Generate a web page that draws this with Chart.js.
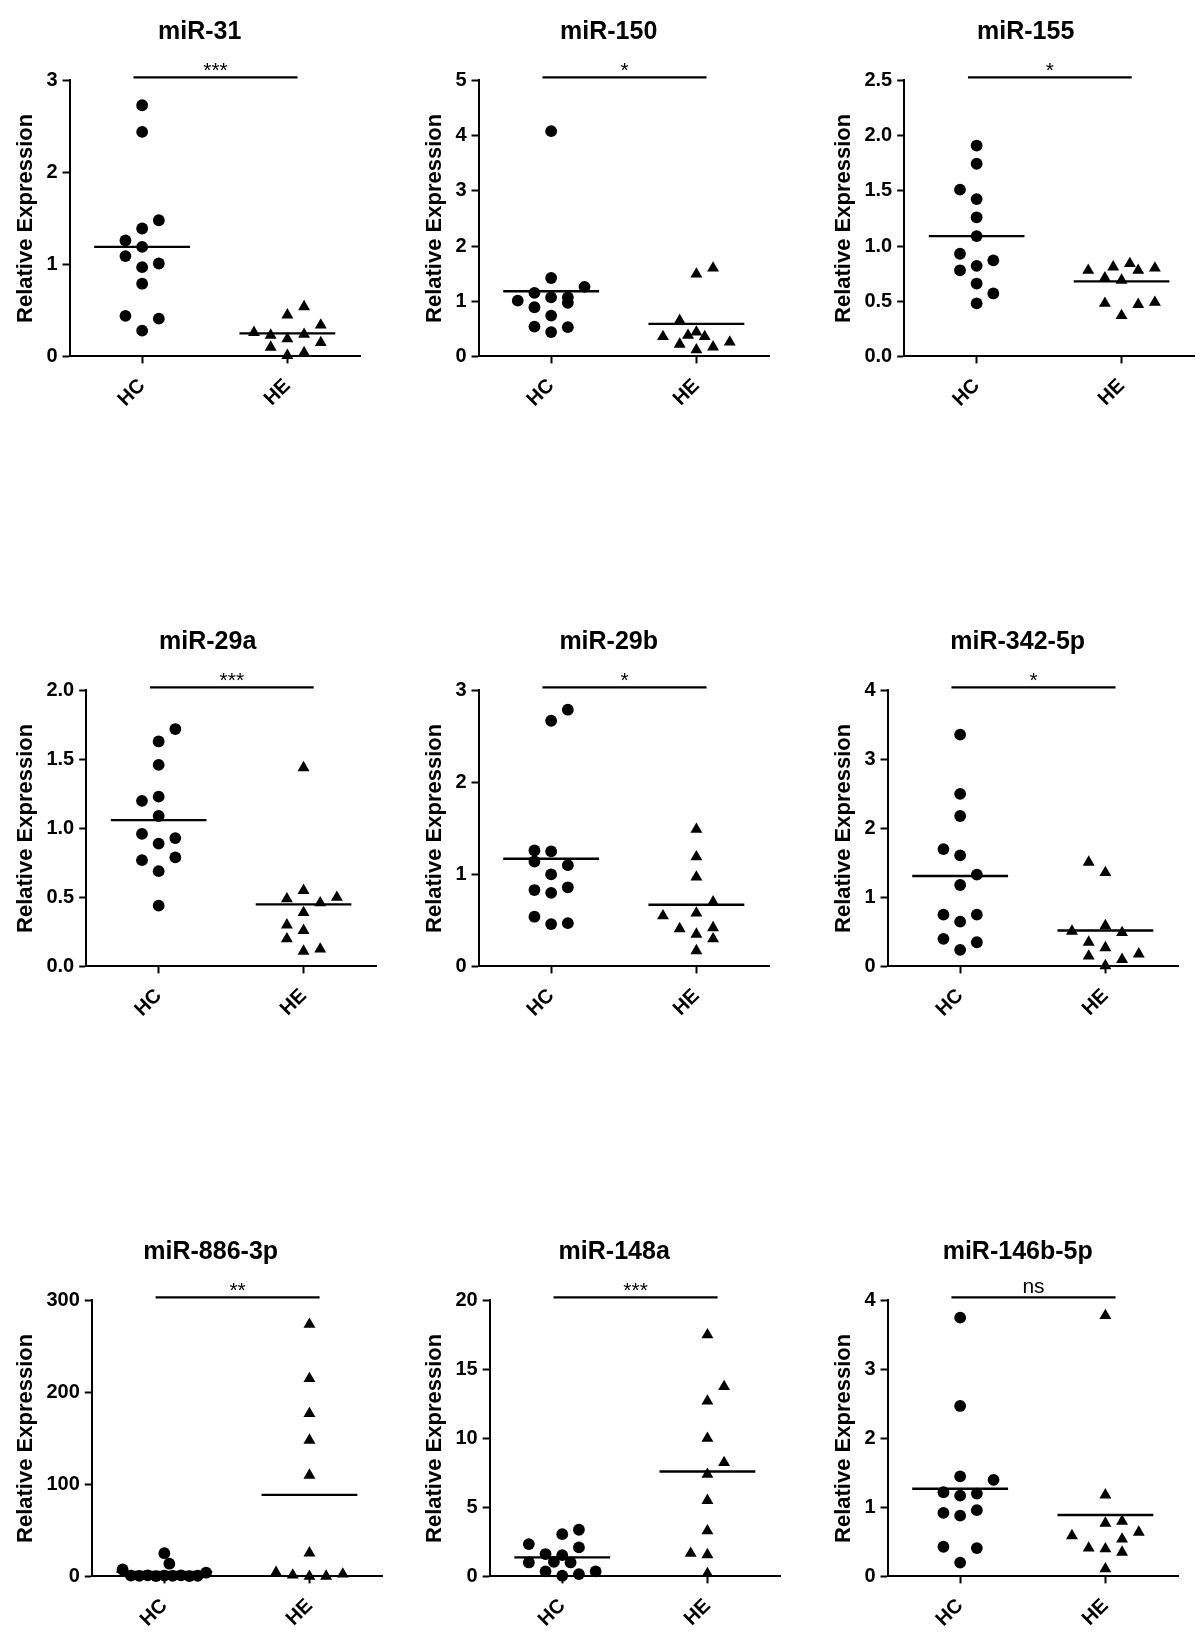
<!DOCTYPE html>
<html>
<head>
<meta charset="utf-8">
<script src="https://cdn.jsdelivr.net/npm/chart.js@4"></script>
<style>
  html, body { margin: 0; padding: 0; background: #fff; }
  #page { position: relative; width: 1200px; height: 1634px; overflow: hidden; background: #fff; }
  #page canvas { position: absolute; }
</style>
</head>
<body>
<div id="page"></div>
<script>
// ---------------- DATA ----------------
const GROUPS = ['HC', 'HE'];
const Y_TITLE = 'Relative Expression';

// miR-31
const MIR31_TICKS = ['0', '1', '2', '3'];
const MIR31_HC = [2.73, 2.44, 1.48, 1.39, 1.26, 1.19, 1.09, 1.01, 0.97, 0.79, 0.44, 0.41, 0.28];
const MIR31_HC_LANE = [0, 0, 1, 0, -1, 0, -1, 1, 0, 0, -1, 1, 0];
const MIR31_HE = [0.54, 0.45, 0.34, 0.26, 0.23, 0.19, 0.24, 0.15, 0.10, 0.01, 0.04];
const MIR31_HE_LANE = [1, 0, 2, -2, -1, 0, 1, 2, -1, 0, 1];
const MIR31_MEAN = [1.19, 0.25];

// miR-150
const MIR150_TICKS = ['0', '1', '2', '3', '4', '5'];
const MIR150_HC = [4.08, 1.42, 1.26, 1.15, 1.07, 1.07, 1.01, 0.97, 0.89, 0.74, 0.54, 0.53, 0.44];
const MIR150_HC_LANE = [0, 0, 2, -1, 0, 1, -2, 1, -1, 0, -1, 1, 0];
const MIR150_HE = [1.49, 1.60, 0.65, 0.36, 0.38, 0.44, 0.36, 0.22, 0.12, 0.17, 0.26];
const MIR150_HE_LANE = [0, 1, -1, -2, -0.5, 0, 0.5, -1, 0, 1, 2];
const MIR150_MEAN = [1.18, 0.59];

// miR-155
const MIR155_TICKS = ['0.0', '0.5', '1.0', '1.5', '2.0', '2.5'];
const MIR155_HC = [1.91, 1.745, 1.51, 1.425, 1.26, 1.09, 0.93, 0.87, 0.82, 0.78, 0.66, 0.57, 0.48];
const MIR155_HC_LANE = [0, 0, -1, 0, 0, 0, -1, 1, 0, -1, 0, 1, 0];
const MIR155_HE = [0.78, 0.81, 0.84, 0.78, 0.80, 0.71, 0.69, 0.48, 0.47, 0.49, 0.37];
const MIR155_HE_LANE = [-2, -0.5, 0.5, 1, 2, -1, 0, -1, 1, 2, 0];
const MIR155_MEAN = [1.09, 0.68];

// miR-29a
const MIR29A_TICKS = ['0.0', '0.5', '1.0', '1.5', '2.0'];
const MIR29A_HC = [1.72, 1.63, 1.46, 1.20, 1.23, 1.09, 0.96, 0.93, 0.89, 0.77, 0.79, 0.69, 0.44];
const MIR29A_HC_LANE = [1, 0, 0, -1, 0, 0, -1, 1, 0, -1, 1, 0, 0];
const MIR29A_HE = [1.44, 0.49, 0.55, 0.46, 0.50, 0.39, 0.30, 0.26, 0.20, 0.11, 0.125];
const MIR29A_HE_LANE = [0, -1, 0, 1, 2, 0, -1, 0, -1, 0, 1];
const MIR29A_MEAN = [1.06, 0.45];

// miR-29b
const MIR29B_TICKS = ['0', '1', '2', '3'];
const MIR29B_HC = [2.79, 2.67, 1.26, 1.25, 1.14, 1.10, 1.00, 0.83, 0.86, 0.80, 0.54, 0.46, 0.47];
const MIR29B_HC_LANE = [1, 0, -1, 0, -1, 1, 0, -1, 1, 0, -1, 0, 1];
const MIR29B_HE = [1.49, 1.19, 0.97, 0.70, 0.55, 0.58, 0.41, 0.42, 0.35, 0.30, 0.17];
const MIR29B_HE_LANE = [0, 0, 0, 1, -2, 0, -1, 1, 0, 1, 0];
const MIR29B_MEAN = [1.17, 0.67];

// miR-342-5p
const MIR342_TICKS = ['0', '1', '2', '3', '4'];
const MIR342_HC = [3.36, 2.50, 2.18, 1.70, 1.61, 1.33, 1.18, 0.75, 0.75, 0.65, 0.40, 0.35, 0.24];
const MIR342_HC_LANE = [0, 0, 0, -1, 0, 1, 0, -1, 1, 0, -1, 1, 0];
const MIR342_HE = [1.51, 1.36, 0.51, 0.59, 0.49, 0.35, 0.27, 0.15, 0.10, 0.18, 0.01];
const MIR342_HE_LANE = [-1, 0, -2, 0, 1, -1, 0, -1, 1, 2, 0];
const MIR342_MEAN = [1.31, 0.52];

// miR-886-3p
const MIR886_TICKS = ['0', '100', '200', '300'];
const MIR886_HC = [25.2, 13.8, 7.5, 4.0, 0.8, 0.5, 1.2, 0.3, 0.9, 0.6, 1.1, 0.4, 0.7];
const MIR886_HC_LANE = [0, 0.3, -2.5, 2.5, -2, -1.5, -1, -0.5, 0, 0.5, 1, 1.5, 2];
const MIR886_HE = [274, 215, 177, 148, 110, 25.5, 4.3, 1.4, 0, 0.2, 2.5];
const MIR886_HE_LANE = [0, 0, 0, 0, 0, 0, -2, -1, 0, 1, 2];
const MIR886_MEAN = [5, 88.7];

// miR-148a
const MIR148A_TICKS = ['0', '5', '10', '15', '20'];
const MIR148A_HC = [3.38, 3.06, 2.34, 2.10, 1.62, 1.54, 1.01, 1.06, 1.01, 0.36, 0.05, 0.17, 0.36];
const MIR148A_HC_LANE = [1, 0, -2, 1, -1, 0, -2, -0.5, 0.5, -1, 0, 1, 2];
const MIR148A_HE = [17.5, 13.75, 12.7, 10.0, 8.25, 7.4, 5.5, 3.3, 1.67, 1.57, 0.2];
const MIR148A_HE_LANE = [0, 1, 0, 0, 1, 0, 0, 0, -1, 0, 0];
const MIR148A_MEAN = [1.375, 7.6];

// miR-146b-5p
const MIR146B_TICKS = ['0', '1', '2', '3', '4'];
const MIR146B_HC = [3.75, 2.47, 1.45, 1.40, 1.22, 1.17, 1.20, 0.92, 0.96, 0.88, 0.43, 0.41, 0.20];
const MIR146B_HC_LANE = [0, 0, 0, 2, -1, 0, 1, -1, 1, 0, -1, 1, 0];
const MIR146B_HE = [3.78, 1.18, 0.77, 0.80, 0.59, 0.64, 0.54, 0.41, 0.40, 0.35, 0.11];
const MIR146B_HE_LANE = [0, 0, 0, 1, -2, 2, 1, -1, 0, 1, 0];
const MIR146B_MEAN = [1.27, 0.89];

const TITLES = ['miR-31', 'miR-150', 'miR-155', 'miR-29a', 'miR-29b', 'miR-342-5p', 'miR-886-3p', 'miR-148a', 'miR-146b-5p'];
const SIGNIF = ['***', '*', '*', '***', '*', '*', '**', '***', 'ns'];

const PANELS = [
  { ticks: MIR31_TICKS, hc: MIR31_HC, hcLane: MIR31_HC_LANE, he: MIR31_HE, heLane: MIR31_HE_LANE, mean: MIR31_MEAN },
  { ticks: MIR150_TICKS, hc: MIR150_HC, hcLane: MIR150_HC_LANE, he: MIR150_HE, heLane: MIR150_HE_LANE, mean: MIR150_MEAN },
  { ticks: MIR155_TICKS, hc: MIR155_HC, hcLane: MIR155_HC_LANE, he: MIR155_HE, heLane: MIR155_HE_LANE, mean: MIR155_MEAN },
  { ticks: MIR29A_TICKS, hc: MIR29A_HC, hcLane: MIR29A_HC_LANE, he: MIR29A_HE, heLane: MIR29A_HE_LANE, mean: MIR29A_MEAN },
  { ticks: MIR29B_TICKS, hc: MIR29B_HC, hcLane: MIR29B_HC_LANE, he: MIR29B_HE, heLane: MIR29B_HE_LANE, mean: MIR29B_MEAN },
  { ticks: MIR342_TICKS, hc: MIR342_HC, hcLane: MIR342_HC_LANE, he: MIR342_HE, heLane: MIR342_HE_LANE, mean: MIR342_MEAN },
  { ticks: MIR886_TICKS, hc: MIR886_HC, hcLane: MIR886_HC_LANE, he: MIR886_HE, heLane: MIR886_HE_LANE, mean: MIR886_MEAN },
  { ticks: MIR148A_TICKS, hc: MIR148A_HC, hcLane: MIR148A_HC_LANE, he: MIR148A_HE, heLane: MIR148A_HE_LANE, mean: MIR148A_MEAN },
  { ticks: MIR146B_TICKS, hc: MIR146B_HC, hcLane: MIR146B_HC_LANE, he: MIR146B_HE, heLane: MIR146B_HE_LANE, mean: MIR146B_MEAN }
];

// ---------------- LAYOUT / STYLE ----------------
const FONT = '"Liberation Sans", Arial, Helvetica, sans-serif';
const COL_LEFT = [13, 422, 831];
const ROW_TOP = [11, 621, 1231];
const PLOT_W = 290, PLOT_H = 276, PAD_R = 26;
const CANVAS_H = 410;
const TOP_BLOCK = 69.4;          // space above plot area (title + significance bar)
const TITLE_SIZE = 25, TITLE_RAISE = 48;
const X_AXIS_H = CANVAS_H - TOP_BLOCK - PLOT_H;
const YT_SIZE = 22, YT_GAP = 7, TICK_SIZE = 20, TICK_LEN = 7, TICK_PAD = 5;
const GROUP_X = [1, 3];
const LANE = 0.23, MEAN_HALF = 0.66, SIG_FROM = 0.88, SIG_TO = 3.14;

const measureCtx = document.createElement('canvas').getContext('2d');
measureCtx.font = 'bold ' + TICK_SIZE + 'px ' + FONT;

const sigPlugin = {
  id: 'sigBar',
  afterDatasetsDraw(chart, args, opts) {
    const { ctx, chartArea, scales } = chart;
    const x1 = scales.x.getPixelForValue(SIG_FROM);
    const x2 = scales.x.getPixelForValue(SIG_TO);
    const y = chartArea.top - 3;
    ctx.save();
    ctx.strokeStyle = '#000';
    ctx.lineWidth = 2.2;
    ctx.beginPath();
    ctx.moveTo(x1, y);
    ctx.lineTo(x2, y);
    ctx.stroke();
    ctx.font = '21px ' + FONT;
    ctx.fillStyle = '#000';
    ctx.textAlign = 'center';
    ctx.textBaseline = 'alphabetic';
    const m = ctx.measureText(opts.text);
    const cy = y - 10;
    const by = cy + (m.actualBoundingBoxAscent - m.actualBoundingBoxDescent) / 2;
    ctx.fillText(opts.text, (x1 + x2) / 2, by);
    ctx.restore();
  }
};

const titlePlugin = {
  id: 'panelTitle',
  afterDraw(chart, args, opts) {
    const { ctx, chartArea } = chart;
    const x = (chartArea.left - opts.labelW - 19 + chartArea.right) / 2;
    const y = chartArea.top - TITLE_RAISE;
    ctx.save();
    ctx.font = 'bold ' + TITLE_SIZE + 'px ' + FONT;
    ctx.fillStyle = '#000';
    ctx.textAlign = 'center';
    ctx.textBaseline = 'middle';
    ctx.fillText(opts.text, x, y);
    ctx.restore();
  }
};

const page = document.getElementById('page');

PANELS.forEach((p, i) => {
  const col = i % 3, row = Math.floor(i / 3);
  const labelW = Math.max(...p.ticks.map(t => measureCtx.measureText(t).width));
  const yW = YT_SIZE * 1.2 + YT_GAP + labelW + TICK_PAD + TICK_LEN;
  const W = Math.round(yW + PLOT_W + PAD_R);

  const cv = document.createElement('canvas');
  cv.width = W; cv.height = CANVAS_H;
  cv.style.left = COL_LEFT[col] + 'px';
  cv.style.top = ROW_TOP[row] + 'px';
  cv.style.width = W + 'px'; cv.style.height = CANVAS_H + 'px';
  page.appendChild(cv);

  const tickVals = p.ticks.map(Number);
  const yMax = tickVals[tickVals.length - 1];

  const hcPts = p.hc.map((v, k) => ({ x: GROUP_X[0] + p.hcLane[k] * LANE, y: v }));
  const hePts = p.he.map((v, k) => ({ x: GROUP_X[1] + p.heLane[k] * LANE, y: v }));
  const meanLine = g => ({
    type: 'line',
    data: [{ x: GROUP_X[g] - MEAN_HALF, y: p.mean[g] }, { x: GROUP_X[g] + MEAN_HALF, y: p.mean[g] }],
    borderColor: '#000', borderWidth: 2.3, pointRadius: 0, showLine: true, fill: false, clip: false
  });

  new Chart(cv, {
    type: 'scatter',
    data: {
      datasets: [
        meanLine(0), meanLine(1),
        { label: GROUPS[0], data: hcPts, pointStyle: 'circle', pointRadius: 5.9,
          backgroundColor: '#000', borderColor: '#000', borderWidth: 0, clip: false },
        { label: GROUPS[1], data: hePts, pointStyle: 'triangle', pointRadius: 6.9,
          backgroundColor: '#000', borderColor: '#000', borderWidth: 0, clip: false }
      ]
    },
    options: {
      responsive: false,
      devicePixelRatio: 1,
      animation: false,
      events: [],
      layout: { padding: { left: 0, right: PAD_R, top: TOP_BLOCK, bottom: 0 } },
      plugins: {
        legend: { display: false },
        tooltip: { enabled: false },
        title: { display: false },
        panelTitle: { text: TITLES[i], labelW: labelW },
        sigBar: { text: SIGNIF[i] }
      },
      scales: {
        x: {
          type: 'linear', min: 0, max: 4,
          afterBuildTicks: s => { s.ticks = GROUP_X.map(v => ({ value: v })); },
          afterFit: s => { s.height = X_AXIS_H; },
          ticks: {
            callback: (v, k) => GROUPS[k],
            minRotation: 45, maxRotation: 45, autoSkip: false,
            color: '#000', padding: 19,
            font: { family: FONT, size: 20, weight: 'bold', lineHeight: 0.05 }
          },
          grid: { drawOnChartArea: false, drawTicks: true, tickLength: TICK_LEN, tickWidth: 2, tickColor: '#000' },
          border: { display: true, color: '#000', width: 2 }
        },
        y: {
          type: 'linear', min: 0, max: yMax,
          afterBuildTicks: s => { s.ticks = tickVals.map(v => ({ value: v })); },
          afterFit: s => { s.width = yW; },
          ticks: {
            callback: (v, k) => p.ticks[k],
            color: '#000', padding: TICK_PAD, autoSkip: false,
            font: { family: FONT, size: TICK_SIZE, weight: 'bold' }
          },
          grid: { drawOnChartArea: false, drawTicks: true, tickLength: TICK_LEN, tickWidth: 2, tickColor: '#000' },
          border: { display: true, color: '#000', width: 2 },
          title: {
            display: true, text: Y_TITLE, color: '#000',
            font: { family: FONT, size: YT_SIZE, weight: 'bold', lineHeight: 1.2 },
            padding: { top: 0, bottom: YT_GAP }
          }
        }
      }
    },
    plugins: [sigPlugin, titlePlugin]
  });
});
</script>
</body>
</html>
